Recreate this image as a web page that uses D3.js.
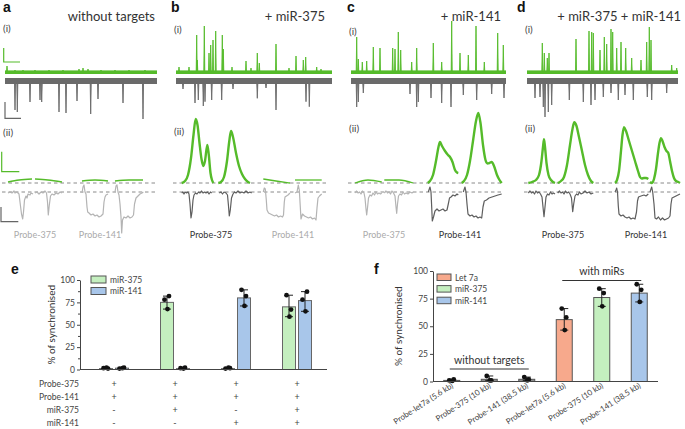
<!DOCTYPE html>
<html>
<head>
<meta charset="utf-8">
<script src="https://cdn.jsdelivr.net/npm/d3@7"></script>
<style>
    body { margin: 0; background: #fff; }
    svg { display: block; font-family: Lato, "Open Sans", sans-serif; }
    .letter { font-family: "Liberation Sans", Arial, sans-serif; font-weight: bold; font-size: 14px; fill: #111; }
    .axis path, .axis line { stroke: #444; }
    .axis text { fill: #444; font-size: 8.5px; font-family: Lato, sans-serif; }
</style>
</head>
<body>
<svg id="fig" width="685" height="429"></svg>
<script>
    const svg = d3.select("#fig");

    const GREEN = "#55bb2a";
    const DARK = "#5e5e5e";
    const LIGHT = "#b4b4b4";
    const TXT = "#333";

    // ---------- panels a-d : traces ----------
    const panelIds = ["a", "b", "c", "d"];
    const panelTitles = ["without targets", "+ miR-375", "+ miR-141", "+ miR-375 + miR-141"];
    const probeNames = ["Probe-375", "Probe-141"];
    const activeProbes = [[false, false], [true, false], [false, true], [true, true]];

    // (i) spikes: [time, amplitude]
    const greenSpikesA = [[2, 6], [10, 2], [18, 2], [30, 2], [44, 2], [58, 2], [74, 3], [78, 4], [83, 3], [96, 2], [110, 2], [124, 2], [140, 2]];
    const graySpikesA = [[10, 26], [12.3, 28], [25, 18], [35, 16], [36.7, 18], [54, 28], [61, 29], [72, 17], [85.7, 30], [93, 15], [118, 19], [138, 35]];

    const greenSpikesB = [[3, 5], [13, 5], [20.7, 37], [21.3, 12], [28.3, 46], [33, 19], [34.7, 27], [37, 32], [39.7, 41], [46.3, 37], [47.3, 23], [56, 5], [70, 11], [75, 4],
        [81.3, 19], [83.3, 9], [100, 28], [113, 4], [120, 16], [127.3, 12], [129.7, 15], [140.7, 5], [145, 3]];
    const graySpikesB = [[7, 5], [19, 19], [22.3, 16], [27.3, 22], [29, 17.7], [35.7, 16], [45.7, 16], [57, 5], [81.3, 14.3], [90, 4], [100, 26], [130, 17.7], [133.3, 22.7]];

    const greenSpikesC = [[5.7, 35], [7.3, 13], [11.3, 10], [15.7, 11], [22.3, 25], [29, 24], [41.7, 24], [44, 23], [47.3, 40], [49.7, 22], [60.7, 10], [65.7, 24],
        [82.3, 29], [90.7, 10], [100.7, 51], [109, 19], [117.3, 17], [125, 46], [133.3, 10], [146.7, 39], [152.3, 27]];
    const graySpikesC = [[5.7, 23], [7.3, 18], [12.3, 9], [59, 10], [65.7, 23], [67.3, 18], [80, 14], [90.7, 19], [100, 23], [112.3, 11], [125.7, 16], [140.7, 10], [153, 14]];

    const greenSpikesD = [[15.3, 29], [17.3, 19], [20.3, 14], [22, 19], [49, 33], [62, 41], [64.7, 40], [66.3, 39], [73, 22], [77.3, 35], [79.7, 28], [84, 43], [85.7, 40],
        [89.7, 24], [94, 30], [98.7, 24], [104.7, 14], [114, 12], [119.7, 30], [122.3, 45], [124, 32], [144.7, 7], [149.7, 4]];
    const graySpikesD = [[8, 14], [13, 13], [16.3, 23], [18, 33], [21.3, 28], [24.7, 21], [42.3, 16], [56.3, 18], [64, 21], [68, 16], [76.3, 13], [84, 9],
        [91.3, 16], [98, 11], [106.3, 16], [120.3, 13], [124.7, 16], [139.7, 9]];

    // (ii) averaged responses: [time, value]
    const greenTracesA = [
        [[3, 1], [14, 3], [27, 4]],
        [[30, 4], [43, 3], [57, 1]],
        [[77, 2], [90, 3], [103, 2]],
        [[110, 2], [124, 3], [138, 3]]
    ];
    const grayTracesA = [
        [[3, 1], [5, 0], [7, 1], [9, -1], [10, 1], [12, 0], [14, 2], [15, 10], [16.5, 22], [17.7, 27], [18.5, 20], [19.5, 8], [21, 4], [22, 6], [23, 2], [25, 3], [26, 1], [28, 2]],
        [[30, 1], [32, 0], [34, 2], [36, 0], [38, 1], [40, -1], [41.5, 1], [42.5, 10], [43.3, 23], [44.2, 14], [45.5, 4], [47, 2], [49, 3], [51, 1], [53, 2], [55, 0], [57, 1]],
        [[77, 1], [78, -5], [79, -7], [80, 0], [81, 2], [82, 15], [82.7, 20], [84, 21], [86, 23], [88, 22], [90, 24], [92, 23], [94, 25], [96, 24], [98, 22], [99, 10], [100, 5], [101, 3], [103, 2]],
        [[110, 0], [111, -6], [112, -7], [113, 0], [114, 3], [115, 12], [116, 25], [116.7, 41], [117.5, 28], [119, 25], [121, 26], [123, 24], [125, 26], [127, 25], [128.5, 23], [129.5, 12], [131, 6], [133, 4], [135, 2], [137, 1], [138.3, 0]]
    ];

    const greenTracesB = [
        [[5.7, 0], [9, 2], [12, 8], [15, 25], [17.5, 48], [19.7, 64], [21.5, 58], [23.5, 40], [25.5, 24], [27.3, 17], [29, 22], [31.3, 38], [32.8, 28], [34.5, 10], [36, 3], [37.3, 0]],
        [[42.3, 0], [45, 1], [48, 6], [51, 22], [53.3, 42], [55, 52], [57, 46], [60, 30], [63, 17], [66, 9], [69, 4], [72, 1], [74, 0]],
        [[87.3, 4], [100, 2], [114, 0]],
        [[119, 3], [132, 3], [145.7, 3]]
    ];
    const grayTracesB = [
        [[5.7, 1], [7, 0], [8, 2], [9, 0], [10.5, 1], [12, 0], [13, 2], [14, 12], [15, 26], [16, 20], [17, 8], [18, 3], [19.5, 1], [21, 2], [22.5, 0], [24, 1], [25.5, -1], [27, 1], [28.5, 0], [30, 1], [31.5, 0], [33, 2], [34.5, 0], [35.7, 1]],
        [[43.3, 1], [45, 0], [46.5, 2], [48, 0], [50, 1], [51.5, 3], [52.5, 14], [53.3, 24], [54.3, 18], [55.5, 6], [57, 2], [58.5, 0], [60, 1], [62, -1], [64, 1], [66, 0], [68, 1], [70, -1], [72, 1], [74, 0], [75.7, 1]],
        [[87.3, 0], [88.3, -4], [89.3, -3], [90.3, 8], [91, 18], [92.5, 21], [94.5, 22], [96.5, 23], [98.5, 24], [100.5, 23], [102.5, 25], [104.5, 24], [106.5, 25], [107.5, 23], [108.3, 10], [109, 5], [110.5, 4], [112, 3], [114, 1]],
        [[119, 1], [121, 0], [122.3, -7], [123.3, -2], [124.3, 15], [125, 27], [126.5, 22], [128.5, 24], [130.5, 25], [132.5, 26], [134.5, 25], [136.5, 27], [138.5, 26], [140, 28], [141, 16], [142, 6], [143.5, 4], [145.7, 2]]
    ];

    const greenTracesC = [
        [[4, 0], [17, 3], [30.7, 1]],
        [[33.3, 3], [48, 3], [62.3, 0]],
        [[76.7, 0], [79, 2], [82, 8], [85, 22], [87.5, 36], [89, 41], [91, 37], [94, 32], [97, 28], [99, 26], [101.5, 21], [104, 13], [106, 10.5], [107.3, 10]],
        [[110.7, 0], [113, 2], [116, 8], [119, 22], [122, 42], [125, 62], [127.3, 70], [129.5, 60], [132, 38], [134.5, 23], [136.5, 19.5], [138.5, 20], [140.7, 21], [143, 17], [146, 8], [148.5, 3], [150.7, 0]]
    ];
    const grayTracesC = [
        [[4, 1], [5.5, -1], [7, 1], [8.5, 0], [10, 2], [11.5, -1], [13, 1], [14, 6], [15, 17], [15.7, 23], [16.5, 16], [17.5, 6], [19, 3], [20.5, 4], [22, 1], [23.5, 3], [25, 0], [26.5, 2], [28, 1], [29.5, 2], [30.7, 1]],
        [[33.3, 1], [35, -1], [36.5, 1], [38, 0], [39.5, 2], [41, -1], [42.5, 1], [44, 4], [45, 15], [45.7, 21.3], [46.5, 12], [47.5, 4], [49, 2], [50.5, 3], [52, 0], [53.5, 2], [55, 1], [57, 2], [59, 0], [61, 1], [62.3, 0]],
        [[77.3, 0], [78.3, -3], [79, -5], [80, 0], [80.7, 15], [81.3, 29], [82.5, 25], [84, 19], [86, 17], [88, 19], [90, 18], [92, 17], [94, 19], [96, 18], [97.3, 12], [98.5, 6], [100, 5], [102, 3], [104, 4], [106, 2], [107.3, 3]],
        [[112.3, 0], [113.3, -3], [114, -5], [115, 0], [116, 12], [117, 22], [119, 24], [121, 23], [123, 25], [125, 24], [127, 26], [129, 25], [130.7, 26], [132, 15], [133.3, 9], [135.5, 8], [138, 6], [141, 5], [144, 4], [147, 3], [150.7, 2]]
    ];

    const greenTracesD = [
        [[1.3, 0], [5, 1], [9, 3], [12, 8], [14.5, 22], [16, 36], [17, 43.7], [18, 36], [19.5, 20], [21.5, 8], [24, 3], [28, 0]],
        [[30.7, 0], [34, 2], [37, 6], [40, 18], [43, 38], [45.5, 54], [47.3, 60.7], [49.5, 57], [52, 46], [55, 32], [58, 18], [61, 8], [64, 2], [66.3, 0]],
        [[88, 0], [90, 3], [92, 12], [94, 32], [95.5, 48], [97, 55.7], [99, 52], [102, 42], [105, 32], [108, 22], [111, 12], [113, 6], [114.7, 4.5], [117, 5], [119, 5], [121.3, 4]],
        [[123, 1], [125, 0], [127, 4], [129, 14], [131, 30], [132.5, 40], [134, 44.7], [135.5, 42], [137.5, 36], [139.5, 32], [141.3, 30], [143, 22], [145, 12], [147, 5], [149, 2], [151.3, 1], [153, 0]]
    ];
    const grayTracesD = [
        [[1.3, 1], [3, -1], [4.5, 1], [6, 0], [7.5, 2], [9, -1], [10.5, 1], [12, 0], [13.5, 2], [15, 5], [16, 15], [17, 24.7], [18, 15], [19, 5], [20.5, 2], [22, 3], [23.5, 0], [25, 2], [26.5, 1], [28, 2]],
        [[30.7, 1], [32.5, -1], [34, 1], [35.5, 0], [37, 2], [38.5, -1], [40, 1], [41.5, 0], [43, 2], [44.5, 6], [45.7, 19.7], [46.7, 12], [48, 4], [49.5, 2], [51, 3], [52.5, 0], [54, 2], [56, 1], [58, -1], [60, 1], [62, 0], [64, 2], [66.3, 1]],
        [[88, 0], [89, -2], [89.7, -4], [90.5, 0], [91.3, 14], [92, 22], [94, 24], [96, 23], [98, 25], [100, 26], [102, 25], [104, 27], [106, 26], [108, 27], [109.5, 20], [110.5, 9], [111.5, 5], [114, 4], [117, 3], [119, 4], [121.3, 2]],
        [[123, 0], [124, -3], [124.7, -5], [125.7, 0], [127, 12], [128, 26], [129.5, 27], [131.5, 25], [133.5, 28], [135.5, 26], [137.5, 28], [139.5, 27], [141.5, 26], [143, 24], [144, 12], [145, 6], [147, 5], [149, 4], [151, 3], [153, 2]]
    ];

    const greenSpikes = [greenSpikesA, greenSpikesB, greenSpikesC, greenSpikesD];
    const graySpikes = [graySpikesA, graySpikesB, graySpikesC, graySpikesD];
    const greenTraces = [greenTracesA, greenTracesB, greenTracesC, greenTracesD];
    const grayTraces = [grayTracesA, grayTracesB, grayTracesC, grayTracesD];

    // layout for the trace panels
    const panelX = [5, 176, 351, 527];
    const letterX = [3, 171, 347, 517];
    const bandLen = [152, 156, 155, 151];
    const titleRight = [155, 325, 501, 681];
    const romanY = [[31.5, 136], [32.5, 135], [35, 131.5], [32.5, 131.5]];
    const probeLabelT = [[30, 95], [35, 117], [33, 109], [36, 119]];

    panelIds.forEach((id, i) => {
        const x0 = panelX[i];
        const t = d3.scaleLinear().domain([0, 155]).range([x0, x0 + 155]);
        const yG = d3.scaleLinear().domain([0, 50]).range([72, 22]);
        const yK = d3.scaleLinear().domain([0, 40]).range([84, 124]);
        const gy = d3.scaleLinear().domain([0, 70]).range([183, 113]);
        const ky = d3.scaleLinear().domain([0, 35]).range([192, 227]);
        const g = svg.append("g");

        g.append("text").attr("class", "letter").attr("x", letterX[i]).attr("y", 12).text(id);
        g.append("text").attr("x", titleRight[i]).attr("y", 21).attr("text-anchor", "end")
            .attr("font-size", 13).attr("fill", TXT).text(panelTitles[i]);
        g.append("text").attr("x", x0 - 2).attr("y", romanY[i][0]).attr("font-size", 10).attr("fill", "#444").text("(i)");
        g.append("text").attr("x", x0 - 2).attr("y", romanY[i][1]).attr("font-size", 10).attr("fill", "#444").text("(ii)");

        // (i) green recording
        g.append("rect").attr("x", t(0)).attr("y", yG(1.6)).attr("width", bandLen[i]).attr("height", 3.6).attr("fill", GREEN);
        g.selectAll(".gsp").data(greenSpikes[i]).join("path")
            .attr("d", d => `M${t(d[0] - 0.5)},${yG(0)}L${t(d[0])},${yG(d[1])}L${t(d[0] + 0.5)},${yG(0)}`)
            .attr("fill", GREEN).attr("stroke", GREEN).attr("stroke-width", 0.9);

        // (i) gray recording
        g.append("rect").attr("x", t(0)).attr("y", yK(-6)).attr("width", bandLen[i]).attr("height", yK(0) - yK(-6)).attr("fill", "#6a6a6a");
        g.selectAll(".ksp").data(graySpikes[i]).join("path")
            .attr("d", d => `M${t(d[0] - 0.5)},${yK(0)}L${t(d[0])},${yK(d[1])}L${t(d[0] + 0.5)},${yK(0)}`)
            .attr("fill", "#6a6a6a").attr("stroke", "#6a6a6a").attr("stroke-width", 0.9);

        // (ii) baselines
        [gy(0), ky(0)].forEach(yy => {
            g.append("line").attr("x1", t(-3)).attr("x2", t(151)).attr("y1", yy).attr("y2", yy)
                .attr("stroke", "#8a8a8a").attr("stroke-width", 1).attr("stroke-dasharray", "3.5,3");
        });

        const gLine = d3.line().x(d => t(d[0])).y(d => gy(d[1])).curve(d3.curveMonotoneX);
        const kLine = d3.line().x(d => t(d[0])).y(d => ky(d[1]));

        greenTraces[i].forEach(s => {
            const flat = d3.max(s, d => d[1]) < 6;
            g.append("path").datum(s).attr("d", gLine).attr("fill", "none")
                .attr("stroke", GREEN).attr("stroke-width", flat ? 1.3 : 2.4).attr("stroke-linejoin", "round");
        });
        grayTraces[i].forEach((s, k) => {
            const active = activeProbes[i][k < 2 ? 0 : 1];
            g.append("path").datum(s).attr("d", kLine).attr("fill", "none")
                .attr("stroke", active ? DARK : LIGHT).attr("stroke-width", 1.2).attr("stroke-linejoin", "round");
        });

        probeNames.forEach((p, k) => {
            g.append("text").attr("x", t(probeLabelT[i][k])).attr("y", 238).attr("text-anchor", "middle")
                .attr("font-size", 9).attr("fill", activeProbes[i][k] ? TXT : "#aaa").text(p);
        });

        if (i === 0) {
            // scale bars
            g.append("path").attr("d", `M${t(-1.3)},${yG(24)}V${yG(10)}H${t(15)}`).attr("fill", "none").attr("stroke", GREEN).attr("stroke-width", 1.2);
            g.append("path").attr("d", `M${t(0)},${yK(18)}V${yK(34.3)}H${t(16)}`).attr("fill", "none").attr("stroke", "#666").attr("stroke-width", 1.2);
            g.append("path").attr("d", `M${t(-3.3)},${gy(31.3)}V${gy(11.3)}H${t(14.3)}`).attr("fill", "none").attr("stroke", GREEN).attr("stroke-width", 1.2);
            g.append("path").attr("d", `M${t(-4)},${ky(15)}V${ky(29.7)}H${t(13.3)}`).attr("fill", "none").attr("stroke", "#666").attr("stroke-width", 1.2);
        }
    });

    // ---------- panel e ----------
    const eSeries = ["miR-375", "miR-141"];
    const eColors = ["#c4efbf", "#a8c6ea"];
    const eMeans375 = [1, 75, 1, 70];
    const eMeans141 = [1.5, 1, 80, 77];
    const eReps375 = [[1.5, 1, 2], [78, 82, 67.5], [1, 1.5, 2], [83, 67, 59]];
    const eReps141 = [[1, 2, 1.5], [1.5, 2, 1], [89, 82, 71], [78, 87, 65]];
    const eRowLabels = ["Probe-375", "Probe-141", "miR-375", "miR-141"];
    const eRowSigns = [["+", "+", "+", "+"], ["+", "+", "+", "+"], ["-", "+", "-", "+"], ["-", "-", "+", "+"]];

    const jitter = [-2.5, 2, 0.5];

    const eg = svg.append("g");
    eg.append("text").attr("class", "letter").attr("x", 11).attr("y", 274).text("e");
    const ey = d3.scaleLinear().domain([0, 100]).range([369.5, 280]);
    const ex = d3.scaleBand().domain(d3.range(4)).range([83.5, 327.5]);
    const exs = d3.scaleBand().domain([0, 1]).range([16, 45]).paddingInner(0.1875);

    const eMeans = [eMeans375, eMeans141];
    const eReps = [eReps375, eReps141];
    eSeries.forEach((s, si) => {
        eMeans[si].forEach((m, gi) => {
            const bx = ex(gi) + exs(si);
            const cx = bx + exs.bandwidth() / 2;
            eg.append("rect").attr("x", bx).attr("y", ey(m)).attr("width", exs.bandwidth()).attr("height", ey(0) - ey(m))
                .attr("fill", eColors[si]).attr("stroke", "#666").attr("stroke-width", 1);
            const [lo, hi] = d3.extent(eReps[si][gi]);
            eg.append("path").attr("d", `M${cx},${ey(lo)}V${ey(hi)}M${cx - 4},${ey(lo)}H${cx + 4}M${cx - 4},${ey(hi)}H${cx + 4}`)
                .attr("stroke", "#222").attr("stroke-width", 1).attr("fill", "none");
            eReps[si][gi].forEach((v, k) => {
                eg.append("circle").attr("cx", cx + jitter[k]).attr("cy", ey(v)).attr("r", 2.4).attr("fill", "#111");
            });
        });
    });

    eg.append("g").attr("class", "axis").attr("transform", "translate(80,0)")
        .call(d3.axisLeft(ey).tickValues([0, 25, 50, 75, 100]).tickSize(3).tickSizeOuter(0).tickPadding(2));
    eg.append("g").attr("class", "axis").attr("transform", "translate(80,0)")
        .call(d3.axisLeft(ey).tickValues([12.5, 37.5, 62.5, 87.5]).tickSize(2).tickFormat(""))
        .select(".domain").remove();
    eg.append("line").attr("x1", 80).attr("x2", 327).attr("y1", ey(0)).attr("y2", ey(0)).attr("stroke", "#444");

    eg.append("text").attr("transform", `translate(55,${ey(50)}) rotate(-90)`).attr("text-anchor", "middle")
        .attr("font-size", 10).attr("fill", TXT).text("% of synchronised");

    eRowLabels.forEach((lab, r) => {
        const yy = 387 + r * 13;
        eg.append("text").attr("x", 79).attr("y", yy).attr("text-anchor", "end").attr("font-size", 8.5).attr("fill", "#444").text(lab);
        eRowSigns[r].forEach((sg, gi) => {
            eg.append("text").attr("x", ex(gi) + ex.bandwidth() / 2).attr("y", yy).attr("text-anchor", "middle")
                .attr("font-size", 9).attr("fill", "#444").text(sg);
        });
    });

    eSeries.forEach((s, si) => {
        eg.append("rect").attr("x", 91).attr("y", 276 + si * 11.5).attr("width", 15).attr("height", 7)
            .attr("fill", eColors[si]).attr("stroke", "#555");
        eg.append("text").attr("x", 110).attr("y", 282.5 + si * 11.5).attr("font-size", 8.5).attr("fill", "#444").text(s);
    });

    // ---------- panel f ----------
    const fCategories = ["Probe-let7a (5.6 kb)", "Probe-375 (10 kb)", "Probe-141 (38.5 kb)", "Probe-let7a (5.6 kb)", "Probe-375 (10 kb)", "Probe-141 (38.5 kb)"];
    const fMeans = [1, 2, 2, 56, 76, 80];
    const fReps = [[1, 2, 0.5], [5, 1, 1], [4, 2, 1], [66, 58, 46.5], [84, 80, 68], [88, 83, 72]];
    const fColors = ["#8c8c8c", "#8c8c8c", "#8c8c8c", "#f7a98c", "#c4efbf", "#a8c6ea"];
    const fLegend = ["Let 7a", "miR-375", "miR-141"];
    const fLegendColors = ["#f7a98c", "#c4efbf", "#a8c6ea"];

    const fg = svg.append("g");
    fg.append("text").attr("class", "letter").attr("x", 374).attr("y", 274).text("f");
    const fy = d3.scaleLinear().domain([0, 100]).range([381.5, 271]);
    const fx = d3.scalePoint().domain(d3.range(fCategories.length)).range([433, 658]).padding(0.5);
    const bw = 16;

    fMeans.forEach((m, i) => {
        const cx = fx(i);
        fg.append("rect").attr("x", cx - bw / 2).attr("y", fy(m)).attr("width", bw).attr("height", fy(0) - fy(m))
            .attr("fill", fColors[i]).attr("stroke", "#555").attr("stroke-width", 1);
        const [lo, hi] = d3.extent(fReps[i]);
        fg.append("path").attr("d", `M${cx},${fy(lo)}V${fy(hi)}M${cx - 4},${fy(lo)}H${cx + 4}M${cx - 4},${fy(hi)}H${cx + 4}`)
            .attr("stroke", "#222").attr("stroke-width", 1).attr("fill", "none");
        fReps[i].forEach((v, k) => {
            fg.append("circle").attr("cx", cx + jitter[k]).attr("cy", fy(v)).attr("r", 2.4).attr("fill", "#111");
        });
    });

    fg.append("g").attr("class", "axis").attr("transform", "translate(433,0)")
        .call(d3.axisLeft(fy).tickValues([0, 25, 50, 75, 100]).tickSize(3).tickSizeOuter(0).tickPadding(2));
    fg.append("line").attr("x1", 433).attr("x2", 658).attr("y1", fy(0)).attr("y2", fy(0)).attr("stroke", "#444");

    fCategories.forEach((c, i) => {
        const x = fx(i) + 2, y = 387;
        fg.append("text").attr("x", x).attr("y", y).attr("text-anchor", "end")
            .attr("transform", `rotate(-33,${x},${y})`).attr("font-size", 8).attr("fill", "#444").text(c);
    });

    fg.append("text").attr("transform", `translate(402,${fy(50)}) rotate(-90)`).attr("text-anchor", "middle")
        .attr("font-size", 10).attr("fill", TXT).text("% of synchronised");

    fLegend.forEach((s, k) => {
        fg.append("rect").attr("x", 437).attr("y", 274 + k * 11.6).attr("width", 14).attr("height", 6.5)
            .attr("fill", fLegendColors[k]).attr("stroke", "#555");
        fg.append("text").attr("x", 455).attr("y", 280.5 + k * 11.6).attr("font-size", 8.5).attr("fill", "#444").text(s);
    });

    // group brackets
    const brackets = [["without targets", 0, 2, 369, 364], ["with miRs", 3, 5, 280.5, 275]];
    brackets.forEach(([lab, a, b, ly, ty]) => {
        fg.append("line").attr("x1", fx(a) - 2).attr("x2", fx(b) + 2).attr("y1", ly).attr("y2", ly).attr("stroke", "#333").attr("stroke-width", 1.2);
        fg.append("text").attr("x", (fx(a) + fx(b)) / 2).attr("y", ty).attr("text-anchor", "middle")
            .attr("font-size", 10.5).attr("fill", TXT).text(lab);
    });
</script>
</body>
</html>
